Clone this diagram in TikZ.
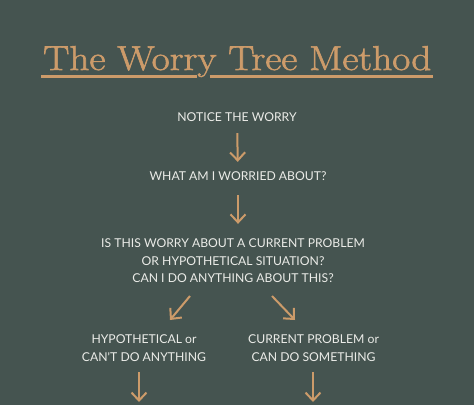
\documentclass[tikz,border=0pt]{standalone}
\usepackage{fontspec}
\newfontfamily\sansf{Lato}
\newfontfamily\titlef[FakeBold=1.6]{Latin Modern Roman}
\usetikzlibrary{arrows.meta,calc}
\definecolor{bg}{RGB}{69,84,80}
\definecolor{tan}{RGB}{204,155,106}
\definecolor{txt}{RGB}{235,236,232}
\begin{document}
\begin{tikzpicture}[x=1pt,y=-1pt,
  lbl/.style={text=txt, font=\sansf\fontsize{12.2}{17.5}\selectfont, align=center, inner sep=0pt},
  arr/.style={draw=tan, line width=2pt, -{Straight Barb[length=8pt,width=15pt,line width=2pt]}}]
\fill[bg] (0,0) rectangle (474,405);
\useasboundingbox (0,0) rectangle (474,405);
\node[text=tan, font=\titlef\fontsize{36}{40}\selectfont, inner sep=0pt, anchor=base west] (title) at (43,70) {\scalebox{1.09}[0.96]{The Worry Tree Method}};
\draw[tan, line width=2.5pt] ($(title.base west)+(-2,6.5)$) -- ($(title.base west)!0.396!(title.base east)+(0,6.5)$);
\draw[tan, line width=2.5pt] ($(title.base west)!0.429!(title.base east)+(0,6.5)$) -- ($(title.base east)+(1,6.5)$);
\node[lbl] (n1) at (237,117.5) {NOTICE THE WORRY};
\node[lbl] (n2) at (238,176.5) {WHAT AM I WORRIED ABOUT?};
\node[lbl] (q) at (233,261) {IS THIS WORRY ABOUT A CURRENT PROBLEM\\OR HYPOTHETICAL SITUATION?\\CAN I DO ANYTHING ABOUT THIS?};
\node[lbl] (la) at (144,348) {HYPOTHETICAL or\\CAN'T DO ANYTHING};
\node[lbl] (ra) at (313.5,348) {CURRENT PROBLEM or\\CAN DO SOMETHING};
\coordinate (d1s) at (190,296);
\coordinate (d1e) at (170,320);
\coordinate (d2s) at (272,296);
\coordinate (d2e) at (295,320);
\coordinate (b1) at (139,402);
\coordinate (b2) at (313,402);
\draw[arr, shorten <=11pt, shorten >=10pt] (n1) -- (n2);
\draw[arr, shorten <=14pt, shorten >=15pt] (n2.south) -- (n2.south |- q.north);
\draw[arr] (d1s) -- (d1e);
\draw[arr] (d2s) -- (d2e);
\draw[arr, shorten <=11pt] (la.south -| b1) -- (b1);
\draw[arr, shorten <=11pt] (ra.south -| b2) -- (b2);
\end{tikzpicture}
\end{document}
